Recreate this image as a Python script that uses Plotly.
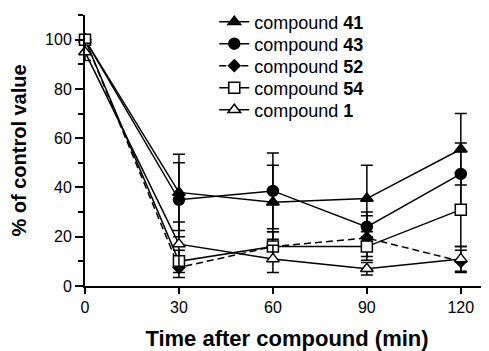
import plotly.graph_objects as go

time_min = [0, 30, 60, 90, 120]

names = ["compound <b>41</b>", "compound <b>43</b>", "compound <b>52</b>",
         "compound <b>54</b>", "compound <b>1</b>"]

c41 = [100, 38, 34, 35.5, 55.5]
c41_err = [0, 15.5, 15, 13.5, 14.5]
c43 = [100, 35, 38.6, 24, 45.5]
c43_err = [0, 15, 15.4, 6, 12.5]
c52 = [100, 7.5, 16, 19.5, 10]
c52_err = [0, 4, 6, 9, 4.5]
c54 = [100, 10, 16, 16, 31]
c54_err = [0, 4.5, 6, 4, 15]
c1 = [95, 17, 11, 7, 11]
c1_err = [3.5, 9, 5.5, 2.5, 5]

y_ticks = [0, 20, 40, 60, 80, 100]
x_ticks = [0, 30, 60, 90, 120]

series = [
    (names[0], c41, c41_err, "triangle-up", "black", "solid", 11),
    (names[1], c43, c43_err, "circle", "black", "solid", 11),
    (names[2], c52, c52_err, "diamond", "black", "dash", 9),
    (names[3], c54, c54_err, "square", "white", "solid", 11),
    (names[4], c1, c1_err, "triangle-up", "white", "solid", 11),
]

FONT = "Liberation Sans, Arial, sans-serif"
legend_ids = ["legend", "legend2", "legend3", "legend4", "legend5"]

fig = go.Figure()
for (name, vals, err, sym, fill, dash, size), lid in zip(series, legend_ids):
    fig.add_trace(go.Scatter(
        x=time_min, y=vals, name=name, mode="lines+markers", legend=lid,
        line=dict(color="black", width=1.5, dash=dash if dash == "solid" else "7px,4px"),
        marker=dict(symbol=sym, size=size, color=fill, line=dict(color="black", width=1.5)),
        error_y=dict(type="data", array=err, visible=True, color="black", thickness=1.5, width=6),
        cliponaxis=False,
    ))

# plot area: bottom at 286px, height 271px on screen
row_px = [22, 44, 66, 88, 110]
legend_layout = {}
for lid, py in zip(legend_ids, row_px):
    legend_layout[lid] = dict(
        x=0.32, y=(286 - py) / 271, xanchor="left", yanchor="middle",
        font=dict(size=18, family=FONT), bgcolor="rgba(0,0,0,0)",
        itemwidth=30,
    )

# page body has an 8px default margin; figure sized to fit the 489x351 window
fig.update_layout(
    width=481, height=343,
    margin=dict(l=77, r=0, t=7, b=65, autoexpand=False),
    paper_bgcolor="white", plot_bgcolor="white",
    font=dict(family=FONT, color="black", size=15),
    showlegend=True,
    xaxis=dict(
        range=[0, 129], tickvals=x_ticks, ticktext=[str(v) for v in x_ticks],
        showgrid=False, zeroline=False, showline=True, linecolor="black", linewidth=2,
        ticks="outside", ticklen=6, tickwidth=2, tickcolor="black",
        tickfont=dict(size=16),
        title=dict(text="<b>Time after compound (min)</b>", font=dict(size=22), standoff=16),
    ),
    yaxis=dict(
        range=[0, 110], tickvals=y_ticks, ticktext=[str(v) for v in y_ticks],
        showgrid=False, zeroline=False, showline=True, linecolor="black", linewidth=2,
        ticks="outside", ticklen=8, tickwidth=2, tickcolor="black",
        tickfont=dict(size=16),
        minor=dict(tickvals=[10, 30, 50, 70, 90, 110], ticks="outside", ticklen=5, tickwidth=1.5, tickcolor="black"),
        title=dict(text="<b>% of control value</b>", font=dict(size=20), standoff=14),
    ),
    **legend_layout,
)

fig.write_html("out.html")
